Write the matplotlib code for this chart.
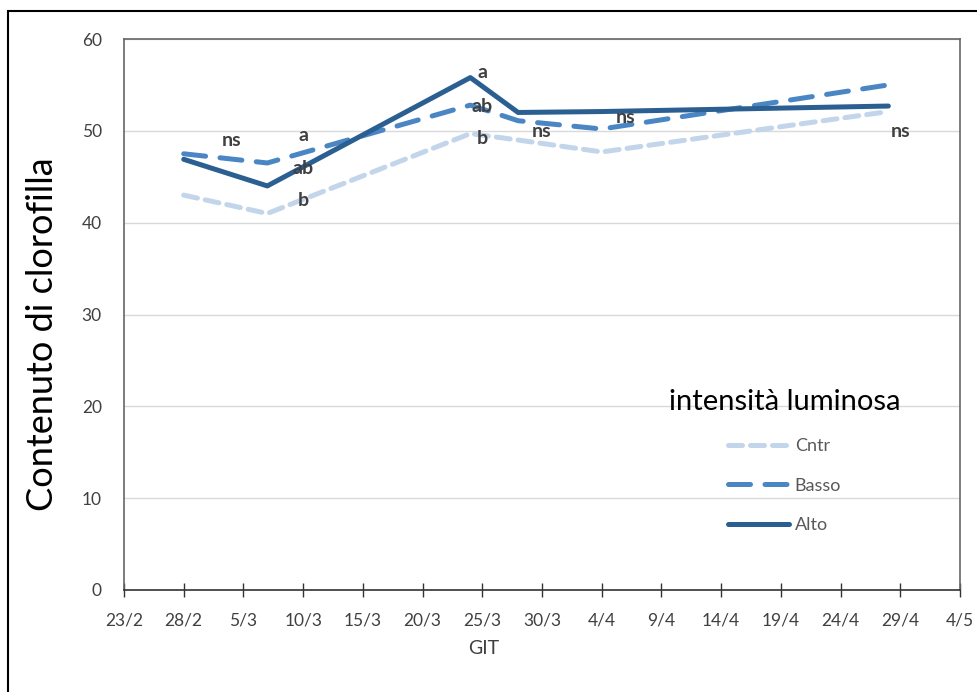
import pandas as pd
import matplotlib.pyplot as plt
from matplotlib.patches import Rectangle

plt.rcParams['font.family'] = ['Lato', 'DejaVu Sans']

# sampling dates and chlorophyll content per light intensity
dates = pd.to_datetime(['2019-02-28', '2019-03-07', '2019-03-24',
                        '2019-03-28', '2019-04-04', '2019-04-28'])
cntr = [43.0, 41.0, 49.7, 49.0, 47.7, 52.1]
basso = [47.5, 46.5, 52.8, 51.1, 50.2, 55.0]
alto = [46.9, 44.0, 55.8, 52.0, 52.1, 52.7]

# significance letters
ann_dates = pd.to_datetime(['2019-03-04', '2019-03-10', '2019-03-10', '2019-03-10',
                            '2019-03-25', '2019-03-25', '2019-03-25',
                            '2019-03-30', '2019-04-06', '2019-04-29'])
ann_vals = [48.9, 49.5, 45.9, 42.4, 56.3, 52.7, 49.2, 49.9, 51.4, 49.9]
ann_txt = ['ns', 'a', 'ab', 'b', 'a', 'ab', 'b', 'ns', 'ns', 'ns']

fig = plt.figure(figsize=(9.77, 6.92), dpi=100)
fig.patches.append(Rectangle((8 / 977, -0.1), 1.2, 1 - 11 / 692 + 0.1,
                             transform=fig.transFigure, fill=False,
                             edgecolor='black', linewidth=1.5))
ax = fig.add_axes([124 / 977, 1 - 590 / 692, (960 - 124) / 977, (590 - 39) / 692])

ax.plot(dates, cntr, color='#c3d5ea', lw=3.6, dashes=(2.8, 1.6),
        dash_capstyle='round', label='Cntr')
ax.plot(dates, basso, color='#4a86c4', lw=3.6, dashes=(4.4, 2.9),
        dash_capstyle='round', label='Basso')
ax.plot(dates, alto, color='#2b5f92', lw=3.6, solid_capstyle='round', label='Alto')

for d, v, t in zip(ann_dates, ann_vals, ann_txt):
    ax.text(d, v, t, ha='center', va='center', fontsize=14,
            color='#404040', fontweight='bold')

ax.set_ylim(0, 60)
ax.set_yticks(range(0, 61, 10))
ax.grid(axis='y', color='#d9d9d9', lw=1)
ax.set_axisbelow(True)
ax.tick_params(axis='y', length=0, pad=16, labelsize=12.5, labelcolor='#404040')

start = pd.Timestamp('2019-02-23')
end = pd.Timestamp('2019-05-04')
ax.set_xlim(start, end)
xt = pd.date_range(start, end, freq='5D')
ax.set_xticks(xt)
ax.set_xticklabels([f'{d.day}/{d.month}' for d in xt])
ax.tick_params(axis='x', direction='inout', length=10, width=1, color='#333333',
               labelsize=12.5, labelcolor='#404040', pad=11)

for s in ['left', 'top', 'right']:
    ax.spines[s].set_color('#666666')
    ax.spines[s].set_linewidth(1.2)
ax.spines['bottom'].set_color('#333333')
ax.spines['bottom'].set_linewidth(1.2)

ax.set_xlabel('GIT', fontsize=14, color='#404040')
ax.xaxis.set_label_coords(0.43, -0.09)
ax.set_ylabel('Contenuto di clorofilla', fontsize=26, color='black')
ax.yaxis.set_label_coords(-0.078, 0.465)

leg = ax.legend(title='intensità luminosa', loc='upper center',
                bbox_to_anchor=(0.79, 0.395), frameon=False, fontsize=13,
                title_fontsize=21, labelspacing=1.3, handlelength=3.4,
                handletextpad=0.3)
leg._legend_box.align = 'center'
for t in leg.get_texts():
    t.set_color('#595959')

fig.savefig('out.png', dpi=100)
